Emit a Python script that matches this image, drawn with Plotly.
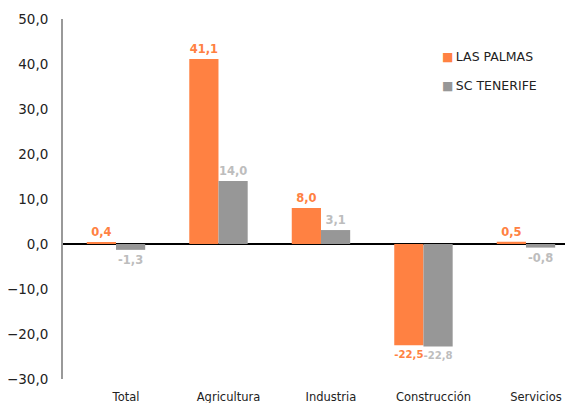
import plotly.graph_objects as go

categories = ["Total", "Agricultura", "Industria", "Construcción", "Servicios"]
las_palmas = [0.4, 41.1, 8.0, -22.5, 0.5]
sc_tenerife = [-1.3, 14.0, 3.1, -22.8, -0.8]
series_names = ["LAS PALMAS", "SC TENERIFE"]
y_ticks = [-30, -20, -10, 0, 10, 20, 30, 40, 50]

ORANGE = "#FF8142"
GREY = "#979797"
FONT = "DejaVu Sans, Verdana, sans-serif"

fig = go.Figure()
fig.add_trace(go.Bar(
    x=categories, y=las_palmas, name=series_names[0],
    marker=dict(color=ORANGE, line=dict(width=0)),
    texttemplate="%{y:.1f}", textposition="outside", cliponaxis=False,
    textfont=dict(color=ORANGE, size=11.5, family=FONT, weight="bold"),
    showlegend=False,
))
fig.add_trace(go.Bar(
    x=categories, y=sc_tenerife, name=series_names[1],
    marker=dict(color=GREY, line=dict(width=0)),
    texttemplate="%{y:.1f}", textposition="outside", cliponaxis=False,
    textfont=dict(color="#BDBDBD", size=11.5, family=FONT, weight="bold"),
    showlegend=False,
))

# legend drawn as annotations (compact marker/text spacing like the original)
for i, (nm, col) in enumerate(zip(series_names, [ORANGE, GREY])):
    fig.add_annotation(
        xref="paper", yref="paper", x=0.74, y=0.895 - i * 0.081,
        xanchor="left", yanchor="middle", showarrow=False,
        text=f"<span style='color:{col};font-size:12px'>■</span>\u2009{nm}",
        font=dict(size=12.5, color="#222222", family=FONT),
    )

fig.update_layout(
    width=565, height=395,
    margin=dict(l=55, r=0, t=11, b=24, autoexpand=False),
    paper_bgcolor="white", plot_bgcolor="white",
    separators=",.",
    barmode="group", bargap=0.43, bargroupgap=0,
    font=dict(family=FONT, color="#222222"),
    showlegend=False,
)
fig.update_xaxes(
    range=[-0.517, 4.459],
    showline=False, showgrid=False, zeroline=False,
    ticks="", tickfont=dict(size=11.5, color="#222222", family=FONT),
    ticklabelshift=10, ticklabelstandoff=9,
)
fig.update_yaxes(
    range=[-30, 50], tickvals=y_ticks, tickformat=".1f",
    showline=True, linecolor="#999999", linewidth=2,
    showgrid=False,
    zeroline=True, zerolinecolor="#000000", zerolinewidth=2,
    ticks="", tickfont=dict(size=13.5, color="#222222", family=FONT),
    ticklabelstandoff=10,
)

fig.write_html("out.html")
